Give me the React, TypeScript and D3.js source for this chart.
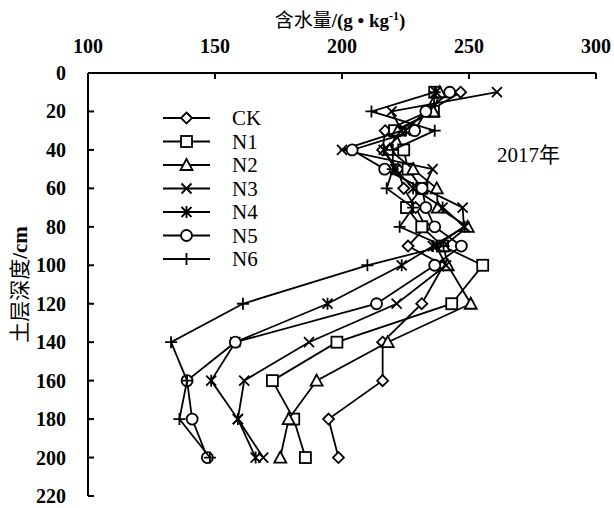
import React from "react";
import * as d3 from "d3";

const depths = [10, 20, 30, 40, 50, 60, 70, 80, 90, 100, 120, 140, 160, 180, 200];
const seriesNames = ["CK", "N1", "N2", "N3", "N4", "N5", "N6"];
const ck = [246.7, 234, 217, 216, 222, 224.3, 229, 233, 226, 240, 231.4, 216, 216, 194.7, 198.6];
const n1 = [236.5, 236, 220.7, 224.3, 226, 231.4, 225.4, 231.4, 239.6, 255.4, 243.2, 198, 172.6, 181, 185.6];
const n2 = [238.5, 236, 222, 218.7, 228, 237.3, 237.7, 249.5, 240, 241.6, 250.7, 218, 190, 179, 175.7];
const n3 = [261, 219.5, 223.5, 200, 235.7, 232, 247.5, 248, 237, 241, 221.5, 187, 161.5, 159, 169];
const n4 = [237, 233, 225, 216.4, 221, 228, 239.6, 248.3, 235.8, 223.5, 194.3, 158, 148.5, 159, 166];
const n5 = [242.4, 233, 228.6, 204, 216.8, 231.5, 233, 236.5, 247, 236.5, 213.6, 158, 139, 141, 147];
const n6 = [236.5, 211.6, 236.5, 220, 220, 217.6, 228, 222.7, 240, 210, 161, 132.7, 139, 136, 148];
const seriesValues = [ck, n1, n2, n3, n4, n5, n6];
const markerKinds = ["diamond", "square", "triangle", "x", "star", "circle", "plus"];
const xTicks = [100, 150, 200, 250, 300];
const yTicks = [0, 20, 40, 60, 80, 100, 120, 140, 160, 180, 200, 220];

const W = 614;
const H = 508;
const FONT = "'Liberation Serif', 'Times New Roman', serif";
const CJK = "'Noto Sans CJK SC', sans-serif";

function Marker({ kind, x, y }: { kind: string; x: number; y: number }) {
  const s = 5.5;
  const common = { stroke: "#000", strokeWidth: 1.8, fill: "#fff" };
  switch (kind) {
    case "diamond":
      return <path d={`M${x},${y - s}L${x + s},${y}L${x},${y + s}L${x - s},${y}Z`} {...common} />;
    case "square":
      return <rect x={x - s} y={y - s} width={2 * s} height={2 * s} {...common} />;
    case "triangle":
      return <path d={`M${x},${y - s - 0.5}L${x + s + 0.5},${y + s - 0.5}L${x - s - 0.5},${y + s - 0.5}Z`} {...common} />;
    case "circle":
      return <circle cx={x} cy={y} r={s} {...common} />;
    case "x":
      return <path d={`M${x - 5},${y - 5}L${x + 5},${y + 5}M${x - 5},${y + 5}L${x + 5},${y - 5}`} stroke="#000" strokeWidth={1.8} fill="none" />;
    case "star":
      return <path d={`M${x - 5},${y - 5}L${x + 5},${y + 5}M${x - 5},${y + 5}L${x + 5},${y - 5}M${x},${y - 6}L${x},${y + 6}`} stroke="#000" strokeWidth={1.8} fill="none" />;
    case "plus":
      return <path d={`M${x - 6},${y}L${x + 6},${y}M${x},${y - 6}L${x},${y + 6}`} stroke="#000" strokeWidth={1.8} fill="none" />;
    default:
      return null;
  }
}

export default function App() {
  const x = d3.scaleLinear().domain([100, 300]).range([88, 596]);
  const y = d3.scaleLinear().domain([0, 220]).range([73, 496]);
  const line = d3
    .line<[number, number]>()
    .x((d) => x(d[0]))
    .y((d) => y(d[1]));

  const legendX0 = 163;
  const legendX1 = 210;
  const legendY0 = 118;
  const legendDy = 23.5;

  return (
    <svg width={W} height={H} style={{ position: "absolute", left: 0, top: 0, background: "#fff" }}>
      <rect width={W} height={H} fill="#fff" />
      <line x1={x(100)} x2={x(300)} y1={y(0)} y2={y(0)} stroke="#000" strokeWidth={2} />
      <line x1={x(100)} x2={x(100)} y1={y(0)} y2={y(220)} stroke="#000" strokeWidth={2} />
      {xTicks.map((t) => (
        <g key={"xt" + t}>
          <line x1={x(t)} x2={x(t)} y1={y(0)} y2={y(0) + 6} stroke="#000" strokeWidth={2} />
          <text x={x(t)} y={y(0) - 20} textAnchor="middle" fontFamily={FONT} fontSize={20} fontWeight="bold">
            {t}
          </text>
        </g>
      ))}
      {yTicks.map((t) => (
        <g key={"yt" + t}>
          <line x1={x(100)} x2={x(100) + 6} y1={y(t)} y2={y(t)} stroke="#000" strokeWidth={2} />
          <text x={x(100) - 22} y={y(t)} dy="0.35em" textAnchor="end" fontFamily={FONT} fontSize={20} fontWeight="bold">
            {t}
          </text>
        </g>
      ))}
      <text x={340} y={27} textAnchor="middle" fontSize={19} fontWeight="bold">
        <tspan fontFamily={CJK} fontWeight="normal">含水量</tspan>
        <tspan fontFamily={FONT}>/(g • kg</tspan>
        <tspan fontFamily={FONT} fontSize={12} dy={-7}>-1</tspan>
        <tspan fontFamily={FONT} dy={7}>)</tspan>
      </text>
      <text transform={`translate(27,${y(110)}) rotate(-90)`} textAnchor="middle" fontSize={21}>
        <tspan fontFamily={CJK}>土层深度</tspan>
        <tspan fontFamily={FONT} fontWeight="bold">/cm</tspan>
      </text>
      {seriesValues.map((vals, i) => {
        const pts: [number, number][] = vals.map((v, j) => [v, depths[j]]);
        return (
          <g key={"s" + i}>
            <path d={line(pts) || ""} fill="none" stroke="#000" strokeWidth={1.8} />
            {pts.map((p, j) => (
              <Marker key={j} kind={markerKinds[i]} x={x(p[0])} y={y(p[1])} />
            ))}
          </g>
        );
      })}
      {seriesNames.map((name, i) => {
        const ly = legendY0 + i * legendDy;
        return (
          <g key={"lg" + i}>
            <line x1={legendX0} x2={legendX1} y1={ly} y2={ly} stroke="#000" strokeWidth={1.8} />
            <Marker kind={markerKinds[i]} x={(legendX0 + legendX1) / 2} y={ly} />
            <text x={232} y={ly} dy="0.35em" fontFamily={FONT} fontSize={21}>
              {name}
            </text>
          </g>
        );
      })}
      <text x={497} y={155} dy="0.35em" fontSize={21}>
        <tspan fontFamily={FONT}>2017</tspan>
        <tspan fontFamily={CJK}>年</tspan>
      </text>
    </svg>
  );
}
